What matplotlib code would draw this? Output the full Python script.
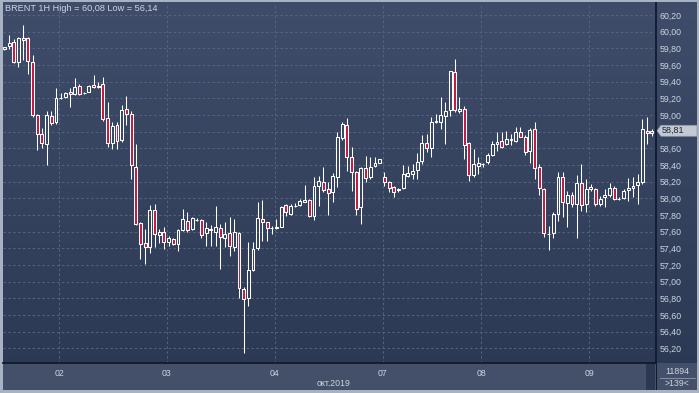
import numpy as np
import matplotlib
matplotlib.use("Agg")
import matplotlib.pyplot as plt
from matplotlib.colors import LinearSegmentedColormap
from matplotlib.patches import Rectangle, Polygon

# BRENT 1H candles
opens = [59.79, 59.83, 59.88, 59.64, 59.90, 59.92, 59.63, 59.00, 58.77, 58.65,
         58.99, 58.91, 59.20, 59.21, 59.28, 59.25, 59.35, 59.26, 59.28, 59.36,
         59.35, 59.37, 58.96, 58.66, 58.88, 58.70, 59.07, 59.01, 58.38, 57.70,
         57.46, 57.41, 57.86, 57.56, 57.59, 57.48, 57.51, 57.45, 57.62, 57.73,
         57.63, 57.74, 57.74, 57.58, 57.62, 57.60, 57.64, 57.52, 57.58, 57.42,
         57.58, 56.91, 56.80, 57.14, 57.40, 57.75, 57.71, 57.64, 57.64, 57.66,
         57.92, 57.81, 57.91, 57.92, 57.96, 57.98, 57.79, 58.15, 58.20, 58.11,
         58.07, 58.25, 58.72, 58.88, 58.49, 58.32, 57.89, 58.36, 58.25, 58.39,
         58.42, 58.25, 58.19, 58.13, 58.10, 58.12, 58.27, 58.29, 58.34, 58.45,
         58.66, 58.60, 58.91, 58.91, 58.99, 59.06, 59.52, 59.05, 59.07, 58.66,
         58.28, 58.39, 58.41, 58.44, 58.52, 58.65, 58.69, 58.65, 58.70, 58.69,
         58.80, 58.73, 58.57, 58.83, 58.38, 58.11, 57.57, 57.58, 57.81, 58.25,
         57.94, 58.04, 57.93, 58.18, 57.93, 58.11, 58.11, 57.93, 58.01, 58.04,
         58.12, 57.99, 58.00, 58.10, 58.12, 58.16, 58.20, 58.81, 58.78]
highs = [59.82, 59.96, 59.91, 59.93, 60.08, 59.93, 59.72, 59.01, 58.84, 59.05,
         59.05, 59.32, 59.26, 59.27, 59.32, 59.44, 59.37, 59.27, 59.36, 59.48,
         59.40, 59.46, 59.16, 58.92, 58.92, 59.12, 59.23, 59.05, 58.65, 57.71,
         57.63, 57.92, 57.93, 57.63, 57.65, 57.55, 57.52, 57.63, 57.87, 57.83,
         57.78, 57.76, 57.75, 57.71, 57.68, 57.91, 57.69, 57.71, 57.77, 57.75,
         57.59, 56.93, 57.47, 57.47, 57.96, 57.98, 57.72, 57.67, 57.75, 57.91,
         57.93, 57.93, 57.94, 57.99, 58.16, 57.99, 58.25, 58.27, 58.37, 58.19,
         58.30, 58.79, 58.91, 58.96, 58.61, 58.33, 58.37, 58.51, 58.49, 58.49,
         58.47, 58.31, 58.21, 58.15, 58.12, 58.40, 58.39, 58.41, 58.54, 58.76,
         58.77, 58.97, 59.01, 59.21, 59.15, 59.53, 59.67, 59.21, 59.11, 58.67,
         58.59, 58.49, 58.42, 58.54, 58.69, 58.79, 58.79, 58.81, 58.77, 58.85,
         58.86, 58.76, 58.84, 58.91, 58.41, 58.12, 57.67, 57.83, 58.31, 58.31,
         58.09, 58.07, 58.28, 58.41, 58.23, 58.17, 58.12, 58.03, 58.11, 58.18,
         58.15, 58.01, 58.11, 58.24, 58.25, 58.29, 58.95, 58.98, 58.83]
lows = [59.78, 59.79, 59.62, 59.57, 59.66, 59.49, 58.97, 58.58, 58.60, 58.40,
        58.88, 58.89, 59.19, 59.20, 59.10, 59.24, 59.24, 59.25, 59.27, 59.32,
        59.32, 58.93, 58.61, 58.59, 58.59, 58.68, 58.88, 58.23, 57.68, 57.27,
        57.21, 57.34, 57.41, 57.46, 57.39, 57.43, 57.44, 57.37, 57.61, 57.60,
        57.62, 57.73, 57.52, 57.43, 57.43, 57.43, 57.15, 57.41, 57.31, 57.37,
        56.80, 56.14, 56.71, 57.13, 57.38, 57.49, 57.49, 57.57, 57.63, 57.65,
        57.79, 57.80, 57.89, 57.91, 57.95, 57.77, 57.74, 57.91, 58.07, 57.80,
        57.95, 58.14, 58.70, 58.33, 58.09, 57.80, 57.69, 58.19, 58.23, 58.38,
        58.42, 58.15, 58.08, 58.02, 58.07, 58.11, 58.26, 58.23, 58.23, 58.41,
        58.55, 58.49, 58.90, 58.83, 58.65, 58.99, 59.03, 59.02, 58.47, 58.21,
        58.25, 58.29, 58.37, 58.41, 58.51, 58.57, 58.60, 58.64, 58.64, 58.67,
        58.73, 58.52, 58.42, 58.23, 58.04, 57.53, 57.38, 57.52, 57.73, 57.77,
        57.65, 57.89, 57.52, 57.85, 57.83, 58.09, 57.91, 57.91, 57.89, 58.01,
        57.98, 57.98, 57.99, 57.97, 58.02, 57.93, 58.17, 58.65, 58.75]
closes = [59.81, 59.86, 59.64, 59.92, 59.92, 59.65, 59.00, 58.77, 58.66, 59.00,
          58.90, 59.20, 59.20, 59.26, 59.25, 59.34, 59.25, 59.26, 59.35, 59.34,
          59.34, 58.95, 58.66, 58.87, 58.69, 59.06, 59.01, 58.40, 57.69, 57.45,
          57.42, 57.86, 57.57, 57.59, 57.47, 57.52, 57.45, 57.62, 57.75, 57.62,
          57.76, 57.74, 57.56, 57.64, 57.63, 57.65, 57.53, 57.57, 57.43, 57.59,
          56.92, 56.79, 57.14, 57.39, 57.76, 57.72, 57.64, 57.64, 57.65, 57.90,
          57.83, 57.91, 57.91, 57.97, 57.98, 57.79, 58.15, 58.21, 58.10, 58.06,
          58.27, 58.74, 58.89, 58.50, 58.31, 57.87, 58.36, 58.24, 58.38, 58.42,
          58.47, 58.20, 58.12, 58.08, 58.11, 58.29, 58.30, 58.33, 58.43, 58.66,
          58.60, 58.92, 58.93, 59.00, 59.05, 59.53, 59.06, 59.07, 58.64, 58.28,
          58.41, 58.42, 58.41, 58.52, 58.65, 58.68, 58.62, 58.71, 58.71, 58.79,
          58.74, 58.56, 58.82, 58.36, 58.12, 57.58, 57.57, 57.81, 58.26, 57.95,
          58.04, 57.93, 58.18, 57.92, 58.11, 58.14, 57.93, 57.99, 58.04, 58.12,
          57.99, 57.99, 58.09, 58.12, 58.15, 58.19, 58.83, 58.78, 58.81]

day_labels = ["02", "03", "04", "07", "08", "09"]
day_start = [12, 35, 58, 81, 102, 125]   # bar index of first hour of each day
price_ticks = [56.2, 56.4, 56.6, 56.8, 57.0, 57.2, 57.4, 57.6, 57.8, 58.0,
               58.2, 58.4, 58.6, 58.8, 59.0, 59.2, 59.4, 59.6, 59.8, 60.0, 60.2]

W, H = 699, 393
txt = "#cdd4e0"
fig = plt.figure(figsize=(W / 100, H / 100), dpi=100)

# background: gradient + frame + bottom bar
bg = fig.add_axes([0, 0, 1, 1], zorder=0)
bg.set_axis_off()
cmap = LinearSegmentedColormap.from_list("bg", ["#404d6a", "#2b3853"])
bg.imshow(np.linspace(0, 1, 256)[:, None], aspect="auto", cmap=cmap,
          extent=[0, 1, 0, 1], origin="upper")
bg.set_xlim(0, 1)
bg.set_ylim(0, 1)
def px_rect(x0, y0, x1, y1, color):
    bg.add_patch(Rectangle((x0 / W, 1 - y1 / H), (x1 - x0) / W, (y1 - y0) / H,
                           facecolor=color, edgecolor="none"))
px_rect(3, 363, 697, 390, "#445069")
px_rect(646, 363, 655, 390, "#2c3750")
px_rect(655.5, 363, 657, 390, "#121a2b")
px_rect(0, 0, 3, H, "#a9b2c1")
px_rect(697, 0, W, H, "#a9b2c1")
px_rect(0, 0, W, 2, "#a9b2c1")
px_rect(0, 390, W, H, "#a9b2c1")
bg.plot([660 / W, 695 / W], [1 - 377.5 / H] * 2, color="#8f9ab0", lw=0.6)
bg.text(677 / W, 1 - 371.5 / H, "11894", color=txt, fontsize=6.3,
        family="Liberation Sans", ha="center", va="center")
bg.text(677 / W, 1 - 383.5 / H, ">139<", color=txt, fontsize=6.3,
        family="Liberation Sans", ha="center", va="center")
bg.text(334 / W, 1 - 383 / H, "окт.2019", color=txt, fontsize=6.3,
        family="Liberation Sans", ha="center", va="center")
bg.text(5 / W, 1 - 8.5 / H, "BRENT 1H High = 60,08 Low = 56,14", color=txt,
        fontsize=6.6, family="Liberation Sans", ha="left", va="center")

# main chart
ax = fig.add_axes([3 / W, 30 / H, 653 / W, 360 / H], zorder=1)
ax.set_facecolor("none")

o = np.array(opens)
h = np.array(highs)
l = np.array(lows)
c = np.array(closes)
x = np.arange(len(o))
up = c >= o
top = np.maximum(o, c)
bot = np.minimum(o, c)

ax.vlines(x, top, h, color="white", lw=0.75, zorder=3)
ax.vlines(x, l, bot, color="white", lw=0.75, zorder=3)
ax.bar(x[up], (top - bot)[up], bottom=bot[up], width=0.62, facecolor="none",
       edgecolor="white", lw=0.75, zorder=4)
ax.bar(x[~up], (top - bot)[~up], bottom=bot[~up], width=0.62, facecolor="#c4183f",
       edgecolor="white", lw=0.75, zorder=4)

ax.set_xlim(-0.3, 138.9)
ax.set_ylim(56.022, 60.344)

# the last-price box sits on top of the 58,80 label, so leave that one blank
last_tick = round(closes[-1] * 5) / 5
ax.set_yticks(price_ticks)
ax.set_yticklabels(["" if abs(v - last_tick) < 1e-9 else f"{v:.2f}".replace(".", ",")
                    for v in price_ticks])
ax.yaxis.tick_right()
ax.set_xticks([d - 0.35 for d in day_start])
ax.set_xticklabels(day_labels)
ax.tick_params(axis="y", length=0, pad=2.5, labelsize=6.3, labelcolor=txt)
ax.tick_params(axis="x", length=0, pad=4, labelsize=6.3, labelcolor=txt)
for lab in ax.get_xticklabels() + ax.get_yticklabels():
    lab.set_family("Liberation Sans")

ax.grid(True, ls=(0, (2.5, 2.5)), color="#56647f", lw=0.7)
ax.set_axisbelow(True)
for s in ["top", "left"]:
    ax.spines[s].set_visible(False)
for s in ["right", "bottom"]:
    ax.spines[s].set_color("#121a2b")
    ax.spines[s].set_linewidth(1.3)

# last price marker
fig.canvas.draw()
yc = ax.transData.transform((0, closes[-1]))[1]
pts = [(657, yc), (661, yc + 5.5), (697, yc + 5.5), (697, yc - 5.5), (661, yc - 5.5)]
fig.add_artist(Polygon([(px / W, py / H) for px, py in pts], closed=True,
                       facecolor="#c3c9d3", edgecolor="#8d96a6", lw=0.5, zorder=5))
fig.text(662 / W, yc / H, f"{closes[-1]:.2f}".replace(".", ","), color="#1b2233",
         fontsize=6.5, family="Liberation Sans", ha="left", va="center", zorder=6)

fig.savefig("out.png", dpi=100)
